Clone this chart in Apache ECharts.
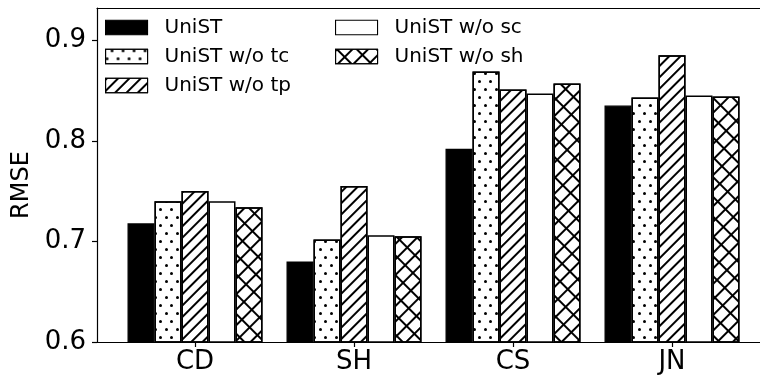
<!DOCTYPE html>
<html>
<head>
<meta charset="utf-8">
<script src="https://cdn.jsdelivr.net/npm/echarts@6/dist/echarts.min.js"></script>
<style>html,body{margin:0;padding:0;background:#fff;}#c{width:760px;height:379px;}</style>
</head>
<body>
<div id="c"></div>
<script>
const categories = ['CD', 'SH', 'CS', 'JN'];
const seriesNames = ['UniST', 'UniST w/o tc', 'UniST w/o tp', 'UniST w/o sc', 'UniST w/o sh'];
const unist     = [0.718, 0.680, 0.792, 0.835];
const unistWoTc = [0.740, 0.702, 0.869, 0.843];
const unistWoTp = [0.750, 0.755, 0.851, 0.885];
const unistWoSc = [0.740, 0.706, 0.847, 0.845];
const unistWoSh = [0.734, 0.705, 0.857, 0.844];
const yTicks = [0.6, 0.7, 0.8, 0.9];

const FONT = 'DejaVu Sans';
const seriesValues = [unist, unistWoTc, unistWoTp, unistWoSc, unistWoSh];

const crossRows = [[9.8, 0]];
for (let i = 0; i < 6; i++) crossRows.push([1.3, 8.5]);

const styles = [
  { color: '#000000', borderColor: '#000', borderWidth: 1.2 },
  { color: '#ffffff', borderColor: '#000', borderWidth: 1.5,
    decal: { symbol: 'circle', symbolSize: 1, color: '#000',
             dashArrayX: [[2.4, 7.6], [0, 5, 2.4, 2.6]], dashArrayY: [2.4, 4.2], rotation: 0 } },
  { color: '#ffffff', borderColor: '#000', borderWidth: 1.5,
    decal: { symbol: 'rect', symbolSize: 1, color: '#000',
             dashArrayX: [1, 0], dashArrayY: [1.3, 5.8], rotation: -Math.PI / 4 } },
  { color: '#ffffff', borderColor: '#000', borderWidth: 1.5 },
  { color: '#ffffff', borderColor: '#000', borderWidth: 1.5,
    decal: { symbol: 'rect', symbolSize: 1, color: '#000',
             dashArrayX: crossRows, dashArrayY: [1.3, 0], rotation: Math.PI / 4 } }
];

const series = seriesNames.map((n, i) => ({
  name: n,
  type: 'bar',
  xAxisIndex: 0,
  yAxisIndex: 0,
  barWidth: 27,
  barGap: '0%',
  data: seriesValues[i],
  itemStyle: styles[i],
  emphasis: { disabled: true },
  animation: false
}));

const legendCommon = {
  orient: 'vertical',
  top: 17,
  padding: 0,
  itemWidth: 42,
  itemHeight: 14.5,
  itemGap: 8,
  selectedMode: false,
  icon: 'rect',
  itemStyle: { borderWidth: 1.1 },
  textStyle: { fontFamily: FONT, fontSize: 20, color: '#000', lineHeight: 21, padding: [0, 0, 0, 12] }
};

const chart = echarts.init(document.getElementById('c'), null, { renderer: 'canvas' });
chart.setOption({
  animation: false,
  backgroundColor: '#fff',
  grid: [
    { left: 115.5, width: 636, top: 8, bottom: 37 },
    { left: 97, width: 673, top: 8, bottom: 37 }
  ],
  legend: [
    Object.assign({}, legendCommon, { left: 105, data: seriesNames.slice(0, 3) }),
    Object.assign({}, legendCommon, { left: 335, data: seriesNames.slice(3) })
  ],
  xAxis: [
    { type: 'category', gridIndex: 0, data: categories,
      axisLine: { show: false },
      axisTick: { show: true, alignWithLabel: true, length: 5, lineStyle: { color: '#000', width: 1.2 } },
      axisLabel: { fontFamily: FONT, fontSize: 26, color: '#000', margin: 7 } },
    { type: 'value', gridIndex: 1, min: 0, max: 1, position: 'bottom',
      axisLine: { show: true, lineStyle: { color: '#000', width: 1.2 } },
      axisTick: { show: false }, axisLabel: { show: false }, splitLine: { show: false } },
    { type: 'value', gridIndex: 1, min: 0, max: 1, position: 'top',
      axisLine: { show: true, lineStyle: { color: '#000', width: 1.2 } },
      axisTick: { show: false }, axisLabel: { show: false }, splitLine: { show: false } }
  ],
  yAxis: [
    { type: 'value', gridIndex: 0, min: 0.6, max: 0.932, interval: 0.1, offset: 18.5,
      name: 'RMSE', nameLocation: 'middle', nameGap: 62,
      nameTextStyle: { fontFamily: FONT, fontSize: 24, color: '#000', padding: [0, 20, 0, 0] },
      axisLine: { show: true, lineStyle: { color: '#000', width: 1.2 } },
      axisTick: { show: true, length: 5, customValues: yTicks, lineStyle: { color: '#000', width: 1.2 } },
      axisLabel: { fontFamily: FONT, fontSize: 26, color: '#000', margin: 11,
                   customValues: yTicks, formatter: v => v.toFixed(1) },
      splitLine: { show: false } },
    { type: 'value', gridIndex: 1, min: 0, max: 1, show: false }
  ],
  series: series
});
</script>
</body>
</html>
